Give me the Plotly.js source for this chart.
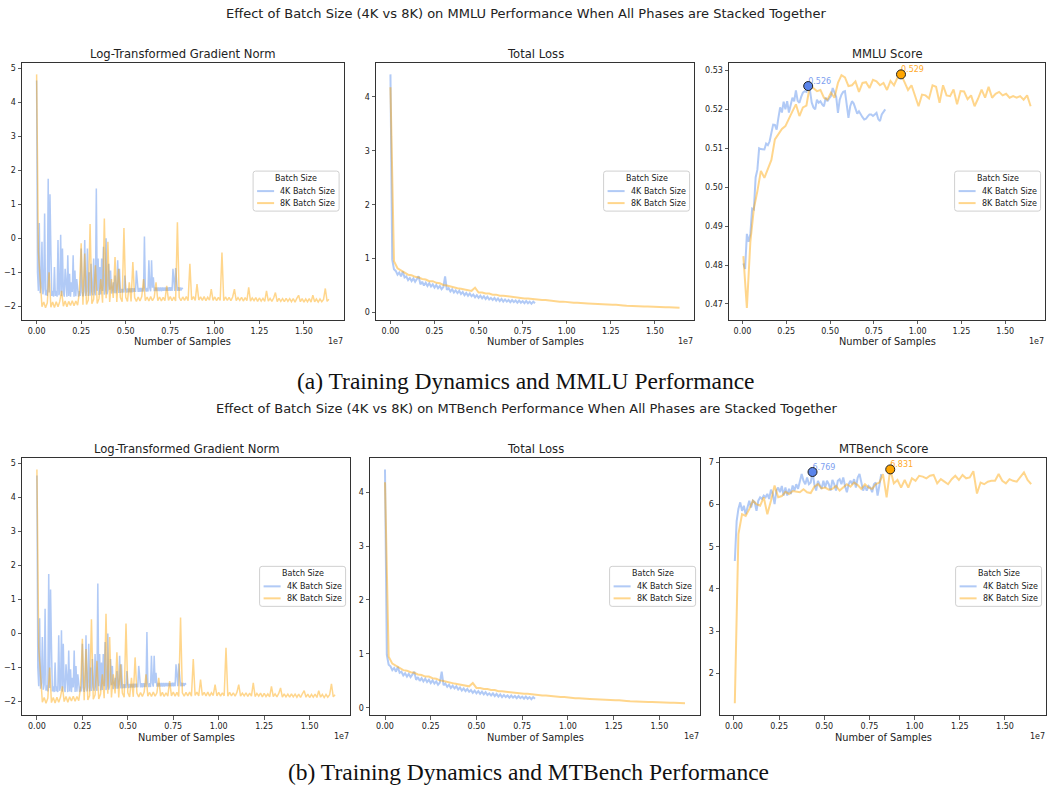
<!DOCTYPE html>
<html>
<head>
<meta charset="utf-8">
<script src="https://cdn.plot.ly/plotly-3.0.1.min.js"></script>
<style>
  html, body { margin: 0; padding: 0; background: #fff; }
  #chart { width: 1047px; height: 786px; }
</style>
</head>
<body>
<div id="chart"></div>
<script>
// ---------------------------------------------------------------------------
// Training logs. Sample counts are expressed in units of 1e7 samples.
// ---------------------------------------------------------------------------

// Log-transformed gradient norm: 4K logged every 0.005e7 samples, 8K every 0.01e7
const GRAD_STEP_4K = 0.005;
const GRAD_STEP_8K = 0.01;
const gradNorm4k = [
  4.65, -1.00, -1.55, 0.45, -1.62, -1.45, -0.10, -1.65, -1.50, 0.73,
  -1.68, -1.52, -1.70, 1.75, -1.60, 1.30, -0.35, -1.70, -1.55, -1.72,
  -0.85, -1.70, -1.55, -1.72, -0.05, -1.68, -1.55, 0.10, -1.70, -0.30,
  -1.58, -1.72, -0.90, -1.56, -1.72, -0.50, -1.70, -1.05, -1.72, -1.30,
  -1.58, -0.50, -1.72, -0.95, -1.71, -1.20, -1.58, -1.72, -1.56, -1.70,
  -0.30, -1.58, -1.71, -1.56, -0.05, -1.70, -1.57, -0.30, -1.70, -1.00,
  -1.69, -0.75, -1.57, -1.68, -0.60, -1.56, -1.68, 1.47, -1.55, -0.60,
  -1.67, -0.85, -1.66, -0.60, -1.55, -0.25, -1.66, -1.53, 0.00, -1.65,
  -1.52, -0.75, -1.52, -0.95, -1.63, -1.52, -1.30, -1.62, -1.10, -1.62,
  -1.50, -0.65, -1.61, -0.90, -1.61, -1.49, -1.60, -1.49, -1.60, -1.10,
  -1.49, -1.60, -1.48, -1.59, -1.48, -1.59, -1.47, -1.59, -1.47, -1.58,
  -1.47, -1.58, -0.95, -1.47, -1.58, -1.46, -1.58, -1.46, -1.57, -1.46,
  -1.57, 0.05, -1.46, -1.57, -1.46, -1.57, -0.65, -1.46, -1.56, -0.65,
  -1.46, -1.15, -1.56, -1.45, -1.56, -1.45, -1.56, -1.45, -1.56, -1.45,
  -1.56, -1.45, -1.55, -1.45, -1.55, -1.45, -1.55, -1.45, -1.55, -1.44,
  -1.55, -1.44, -1.55, -0.90, -1.44, -1.55, -0.88, -1.44, -1.55, -1.44,
  -1.55, -1.45, -1.54, -1.46, -1.50
];
const gradNorm8k = [
  4.83, -0.40, -1.20, -2.02, -1.88, -2.05, -1.90, -1.00, -2.03, -1.88,
  -2.04, -1.87, -2.02, -1.86, -1.55, -2.00, -1.85, -2.02, -1.86, -1.98,
  -1.84, -1.99, -1.85, -1.97, -1.60, -0.15, -1.96, -0.45, -1.95, -1.82,
  0.42, -1.93, -1.80, -0.80, -1.92, -1.78, -1.20, -1.90, 0.58, -1.77,
  -0.10, -1.88, -1.20, -1.76, -0.55, -1.88, -0.90, -1.75, -1.87, 0.30,
  -1.74, -1.86, -1.30, -1.86, -0.70, -1.75, -1.86, -1.73, -1.85, -1.72,
  -1.20, -1.84, -1.73, -1.85, -1.72, -1.84, -1.74, -1.30, -1.84, -1.73,
  -1.85, -1.74, -1.84, -1.40, -1.83, -1.72, -1.84, -1.73, -1.85, 0.47,
  -1.74, -1.84, -1.73, -1.83, -1.72, -1.84, -0.75, -1.82, -1.72, -1.83,
  -1.35, -1.82, -1.73, -1.83, -1.72, -1.84, -1.74, -1.82, -1.50, -1.83,
  -1.73, -1.84, -1.74, -1.83, -0.42, -1.84, -1.73, -1.83, -1.74, -1.84,
  -1.73, -1.50, -1.84, -1.75, -1.83, -1.74, -1.85, -1.75, -1.84, -1.45,
  -1.85, -1.76, -1.84, -1.75, -1.86, -1.76, -1.85, -1.77, -1.86, -1.55,
  -1.85, -1.77, -1.86, -1.76, -1.60, -1.87, -1.77, -1.86, -1.78, -1.87,
  -1.77, -1.86, -1.78, -1.87, -1.78, -1.88, -1.77, -1.68, -1.87, -1.78,
  -1.88, -1.79, -1.87, -1.78, -1.88, -1.68, -1.87, -1.79, -1.88, -1.79,
  -1.87, -1.80, -1.48, -1.86, -1.80
];

// Total loss: 4K logged every 0.01e7 samples, 8K every 0.02e7 samples
const LOSS_STEP_4K = 0.01;
const LOSS_STEP_8K = 0.02;
const loss4k = [
  4.42, 0.98, 0.80, 0.77, 0.70, 0.74, 0.67, 0.76, 0.65, 0.67,
  0.60, 0.64, 0.58, 0.63, 0.57, 0.61, 0.67, 0.52, 0.57, 0.50,
  0.55, 0.49, 0.54, 0.48, 0.52, 0.46, 0.51, 0.45, 0.49, 0.43,
  0.47, 0.67, 0.42, 0.45, 0.39, 0.43, 0.37, 0.41, 0.36, 0.40,
  0.34, 0.38, 0.32, 0.36, 0.31, 0.35, 0.30, 0.33, 0.28, 0.32,
  0.27, 0.31, 0.26, 0.30, 0.25, 0.29, 0.24, 0.27, 0.23, 0.27,
  0.22, 0.26, 0.21, 0.25, 0.20, 0.24, 0.20, 0.23, 0.19, 0.23,
  0.19, 0.22, 0.18, 0.22, 0.18, 0.21, 0.17, 0.21, 0.17, 0.20,
  0.16, 0.20, 0.17
];
const loss8k = [
  4.18, 0.95, 0.82, 0.78, 0.74, 0.70, 0.69, 0.66, 0.65, 0.62,
  0.61, 0.58, 0.58, 0.55, 0.54, 0.51, 0.50, 0.48, 0.47, 0.45,
  0.44, 0.43, 0.41, 0.40, 0.46, 0.37, 0.37, 0.35, 0.35, 0.33,
  0.33, 0.31, 0.31, 0.30, 0.29, 0.28, 0.28, 0.27, 0.26, 0.26,
  0.25, 0.24, 0.24, 0.23, 0.23, 0.22, 0.21, 0.21, 0.20, 0.20,
  0.19, 0.19, 0.18, 0.18, 0.17, 0.17, 0.165, 0.16, 0.16, 0.155,
  0.15, 0.15, 0.14, 0.14, 0.14, 0.13, 0.13, 0.125, 0.12, 0.12,
  0.115, 0.11, 0.11, 0.11, 0.105, 0.10, 0.10, 0.10, 0.095, 0.095,
  0.09, 0.09, 0.085
];

// Evaluation checkpoints: first at 0.005e7 samples, then every 0.01e7 (4K) / 0.02e7 (8K)
const EVAL_START = 0.005;
const EVAL_STEP_4K = 0.01;
const EVAL_STEP_8K = 0.02;
const mmlu4k = [
  0.4804, 0.4790, 0.4880, 0.4860, 0.4880, 0.4945, 0.4943, 0.5025, 0.5045, 0.5100,
  0.5098, 0.5097, 0.5097, 0.5112, 0.5108, 0.5118, 0.5140, 0.5161, 0.5160, 0.5148,
  0.5178, 0.5205, 0.5192, 0.5220, 0.5200, 0.5221, 0.5192, 0.5208, 0.5230, 0.5221,
  0.5249, 0.5222, 0.5217, 0.5232, 0.5243, 0.5247, 0.5245, 0.5260, 0.5250, 0.5218,
  0.5205, 0.5200, 0.5225, 0.5217, 0.5221, 0.5213, 0.5208, 0.5230, 0.5221, 0.5228,
  0.5234, 0.5255, 0.5245, 0.5232, 0.5191, 0.5225, 0.5238, 0.5245, 0.5247, 0.5205,
  0.5178, 0.5208, 0.5221, 0.5215, 0.5200, 0.5189, 0.5195, 0.5186, 0.5180, 0.5174,
  0.5176, 0.5182, 0.5187, 0.5187, 0.5183, 0.5187, 0.5191, 0.5175, 0.5170, 0.5187,
  0.5195, 0.5200
];
const mmlu8k = [
  0.4823, 0.4690, 0.4860, 0.4945, 0.4990, 0.5042, 0.5024, 0.5048, 0.5070, 0.5123,
  0.5136, 0.5150, 0.5157, 0.5178, 0.5195, 0.5213, 0.5183, 0.5205, 0.5210, 0.5262,
  0.5255, 0.5247, 0.5250, 0.5230, 0.5225, 0.5243, 0.5230, 0.5268, 0.5288, 0.5282,
  0.5260, 0.5262, 0.5272, 0.5245, 0.5268, 0.5270, 0.5255, 0.5276, 0.5272, 0.5262,
  0.5268, 0.5250, 0.5273, 0.5262, 0.5282, 0.5290, 0.5270, 0.5250, 0.5262, 0.5234,
  0.5208, 0.5238, 0.5236, 0.5228, 0.5262, 0.5258, 0.5217, 0.5262, 0.5236, 0.5234,
  0.5251, 0.5213, 0.5247, 0.5246, 0.5226, 0.5236, 0.5208, 0.5228, 0.5251, 0.5230,
  0.5258, 0.5230, 0.5240, 0.5245, 0.5236, 0.5240, 0.5230, 0.5234, 0.5230, 0.5234,
  0.5225, 0.5236, 0.5208
];
const mtbench4k = [
  4.66, 5.60, 5.90, 6.05, 5.85, 5.97, 5.77, 5.97, 6.09, 5.93,
  6.09, 6.05, 5.85, 6.09, 6.17, 6.13, 6.21, 6.17, 6.25, 6.13,
  6.35, 6.25, 6.01, 6.33, 6.40, 6.29, 6.44, 6.21, 6.40, 6.21,
  6.37, 6.25, 6.45, 6.33, 6.48, 6.37, 6.56, 6.72, 6.56, 6.48,
  6.64, 6.48, 6.52, 6.769, 6.48, 6.33, 6.56, 6.48, 6.37, 6.56,
  6.40, 6.56, 6.48, 6.33, 6.58, 6.48, 6.33, 6.56, 6.60, 6.48,
  6.64, 6.44, 6.29, 6.48, 6.56, 6.48, 6.60, 6.40, 6.64, 6.72,
  6.48, 6.33, 6.44, 6.33, 6.44, 6.40, 6.29, 6.48, 6.52, 6.21,
  6.45, 6.72
];
const mtbench8k = [
  1.29, 5.30, 5.77, 5.73, 5.89, 6.09, 6.01, 5.97, 6.17, 5.77,
  6.09, 6.45, 6.17, 6.20, 6.30, 6.25, 6.32, 6.30, 6.29, 6.36,
  6.29, 6.27, 6.42, 6.48, 6.38, 6.40, 6.35, 6.37, 6.44, 6.33,
  6.40, 6.48, 6.42, 6.52, 6.46, 6.37, 6.48, 6.40, 6.37, 6.48,
  6.52, 6.72, 6.17, 6.831, 6.50, 6.58, 6.40, 6.58, 6.40, 6.62,
  6.56, 6.68, 6.66, 6.62, 6.68, 6.70, 6.50, 6.60, 6.54, 6.48,
  6.60, 6.68, 6.58, 6.70, 6.62, 6.64, 6.79, 6.26, 6.52, 6.48,
  6.54, 6.56, 6.56, 6.72, 6.56, 6.50, 6.60, 6.56, 6.54, 6.66,
  6.76, 6.58, 6.48
];

// Labels
const SERIES_NAMES = ['4K Batch Size', '8K Batch Size'];
const LEGEND_TITLE = 'Batch Size';
const X_LABEL = 'Number of Samples';
const X_OFFSET_LABEL = '1e7';
const PANEL_TITLES = ['Log-Transformed Gradient Norm', 'Total Loss', 'MMLU Score', 'MTBench Score'];
const SUPTITLES = [
  'Effect of Batch Size (4K vs 8K) on MMLU Performance When All Phases are Stacked Together',
  'Effect of Batch Size (4K vs 8K) on MTBench Performance When All Phases are Stacked Together'
];
const CAPTIONS = [
  '(a) Training Dynamics and MMLU Performance',
  '(b) Training Dynamics and MTBench Performance'
];

// ---------------------------------------------------------------------------
// Styling and geometry
// ---------------------------------------------------------------------------
const W = 1047, H = 786;
const px = v => v / W;           // pixel -> paper x
const py = v => 1 - v / H;       // pixel -> paper y
const FONT = 'DejaVu Sans, Arial, sans-serif';
const SERIF = 'Liberation Serif, Times New Roman, serif';

const STYLE = [
  { line: 'rgba(100,149,237,0.5)', marker: '#5a84ea', label: '#7e9ff0' },
  { line: 'rgba(255,165,0,0.45)', marker: '#ffa500', label: '#ffaa2a' }
];

const xsFrom = (n, start, step) => Array.from({ length: n }, (_, i) => +(start + i * step).toFixed(4));

// panel boxes in pixels: [left, right, top, bottom]
const ROW_TOP = [62.7, 319.5];
const ROW_BOT = [457.7, 715];
const panels = [
  { box: [22, 343.5, ...ROW_TOP], title: PANEL_TITLES[0], kind: 'grad' },
  { box: [376, 694, ...ROW_TOP], title: PANEL_TITLES[1], kind: 'loss' },
  { box: [729, 1045, ...ROW_TOP], title: PANEL_TITLES[2], kind: 'mmlu' },
  { box: [22, 350, ...ROW_BOT], title: PANEL_TITLES[0], kind: 'grad' },
  { box: [370, 700, ...ROW_BOT], title: PANEL_TITLES[1], kind: 'loss' },
  { box: [720, 1046, ...ROW_BOT], title: PANEL_TITLES[3], kind: 'mtbench' }
];

function seriesFor(kind) {
  if (kind === 'grad') return [
    { x: xsFrom(gradNorm4k.length, 0, GRAD_STEP_4K), y: gradNorm4k },
    { x: xsFrom(gradNorm8k.length, 0, GRAD_STEP_8K), y: gradNorm8k }
  ];
  if (kind === 'loss') return [
    { x: xsFrom(loss4k.length, 0, LOSS_STEP_4K), y: loss4k },
    { x: xsFrom(loss8k.length, 0, LOSS_STEP_8K), y: loss8k }
  ];
  if (kind === 'mmlu') return [
    { x: xsFrom(mmlu4k.length, EVAL_START, EVAL_STEP_4K), y: mmlu4k },
    { x: xsFrom(mmlu8k.length, EVAL_START, EVAL_STEP_8K), y: mmlu8k }
  ];
  return [
    { x: xsFrom(mtbench4k.length, EVAL_START, EVAL_STEP_4K), y: mtbench4k },
    { x: xsFrom(mtbench8k.length, EVAL_START, EVAL_STEP_8K), y: mtbench8k }
  ];
}

// autoscale with a 5% margin on each side
function padRange(arrays) {
  let lo = Infinity, hi = -Infinity;
  arrays.forEach(a => a.forEach(v => { if (v < lo) lo = v; if (v > hi) hi = v; }));
  const m = (hi - lo) * 0.05;
  return [lo - m, hi + m];
}

const traces = [];
const shapes = [];
const annotations = [];
const layout = {
  width: W, height: H,
  margin: { l: 0, r: 0, t: 0, b: 0 },
  paper_bgcolor: '#ffffff',
  plot_bgcolor: '#ffffff',
  showlegend: false,
  font: { family: FONT, color: '#222' }
};

function axisBase() {
  return {
    showline: true, mirror: true, linecolor: '#333', linewidth: 1,
    ticks: 'outside', ticklen: 3.5, tickwidth: 0.8, tickcolor: '#333',
    showgrid: false, zeroline: false, fixedrange: true,
    tickfont: { family: FONT, size: 8, color: '#222' }
  };
}

function ann(text, xPx, yPx, size, opts) {
  annotations.push(Object.assign({
    text, x: px(xPx), y: py(yPx), xref: 'paper', yref: 'paper',
    showarrow: false, xanchor: 'center', yanchor: 'middle',
    font: { family: FONT, size, color: '#222' }
  }, opts || {}));
}

function roundedRect(x0, y0, x1, y1, r) {
  const p = (x, y) => px(x) + ',' + py(y);
  return 'M' + p(x0 + r, y0) + ' L' + p(x1 - r, y0) + ' Q' + p(x1, y0) + ' ' + p(x1, y0 + r) +
    ' L' + p(x1, y1 - r) + ' Q' + p(x1, y1) + ' ' + p(x1 - r, y1) +
    ' L' + p(x0 + r, y1) + ' Q' + p(x0, y1) + ' ' + p(x0, y1 - r) +
    ' L' + p(x0, y0 + r) + ' Q' + p(x0, y0) + ' ' + p(x0 + r, y0) + ' Z';
}

function drawLegend(axRight, axMid) {
  const w = 86, h = 40;
  const L = axRight - 4.4 - w, T = axMid - h / 2;
  shapes.push({
    type: 'path', xref: 'paper', yref: 'paper', path: roundedRect(L, T, L + w, T + h, 2.5),
    fillcolor: 'rgba(255,255,255,0.8)', line: { color: '#d0d0d0', width: 1 }
  });
  ann(LEGEND_TITLE, L + w / 2, T + 7.5, 8);
  SERIES_NAMES.forEach((name, k) => {
    const yy = T + 20 + k * 12;
    shapes.push({
      type: 'line', xref: 'paper', yref: 'paper',
      x0: px(L + 4), x1: px(L + 21), y0: py(yy), y1: py(yy),
      line: { color: STYLE[k].line, width: 2 }
    });
    ann(name, L + 25, yy, 8, { xanchor: 'left' });
  });
}

panels.forEach((p, idx) => {
  const n = idx + 1;
  const xa = n === 1 ? 'x' : 'x' + n;
  const ya = n === 1 ? 'y' : 'y' + n;
  const [l, r, t, b] = p.box;
  const series = seriesFor(p.kind);
  const lineWidth = p.kind === 'grad' ? 1.5 : 2;

  series.forEach((s, k) => {
    traces.push({
      type: 'scatter', mode: 'lines', x: s.x, y: s.y, xaxis: xa, yaxis: ya,
      name: SERIES_NAMES[k], line: { color: STYLE[k].line, width: lineWidth }, hoverinfo: 'skip'
    });
  });

  // best evaluation checkpoint of each run: value label first, marker drawn over it
  if (p.kind === 'mmlu' || p.kind === 'mtbench') {
    const bestIdx = series.map(s => {
      let best = 0;
      s.y.forEach((v, i) => { if (v > s.y[best]) best = i; });
      return best;
    });
    series.forEach((s, k) => {
      const bi = bestIdx[k];
      traces.push({
        type: 'scatter', mode: 'text', x: [s.x[bi]], y: [s.y[bi]], xaxis: xa, yaxis: ya,
        text: [s.y[bi].toFixed(3)], textposition: 'top right',
        textfont: { family: FONT, size: 8, color: STYLE[k].label }, hoverinfo: 'skip'
      });
    });
    series.forEach((s, k) => {
      const bi = bestIdx[k];
      traces.push({
        type: 'scatter', mode: 'markers', x: [s.x[bi]], y: [s.y[bi]], xaxis: xa, yaxis: ya,
        marker: { size: 9, color: STYLE[k].marker, line: { color: '#222', width: 1 } }, hoverinfo: 'skip'
      });
    });
  }

  const xAxis = Object.assign(axisBase(), {
    domain: [px(l), px(r)], anchor: ya,
    range: padRange(series.map(s => s.x)),
    tickmode: 'linear', tick0: 0, dtick: 0.25, tickformat: '.2f'
  });
  const yAxis = Object.assign(axisBase(), {
    domain: [py(b), py(t)], anchor: xa,
    range: padRange(series.map(s => s.y)),
    tickmode: 'linear', tick0: 0, dtick: 1
  });
  if (p.kind === 'mmlu') Object.assign(yAxis, { tick0: 0.47, dtick: 0.01, tickformat: '.2f' });
  layout['xaxis' + (n === 1 ? '' : n)] = xAxis;
  layout['yaxis' + (n === 1 ? '' : n)] = yAxis;

  const cx = (l + r) / 2;
  ann(p.title, cx, t - 8.7, 11.6);
  ann(X_LABEL, cx, b + 22.5, 9.8);
  ann(X_OFFSET_LABEL, r + 1, b + 21.5, 8, { xanchor: 'right' });
  drawLegend(r, (t + b) / 2);
});

// figure titles and captions
ann(SUPTITLES[0], 525.5, 14, 13);
ann(SUPTITLES[1], 526.5, 408, 13);
ann(CAPTIONS[0], 525.5, 381, 23.5, { font: { family: SERIF, size: 23.5, color: '#111' } });
ann(CAPTIONS[1], 528.5, 772, 23.5, { font: { family: SERIF, size: 23.5, color: '#111' } });

layout.shapes = shapes;
layout.annotations = annotations;

Plotly.newPlot('chart', traces, layout, { staticPlot: true, displayModeBar: false });
</script>
</body>
</html>
